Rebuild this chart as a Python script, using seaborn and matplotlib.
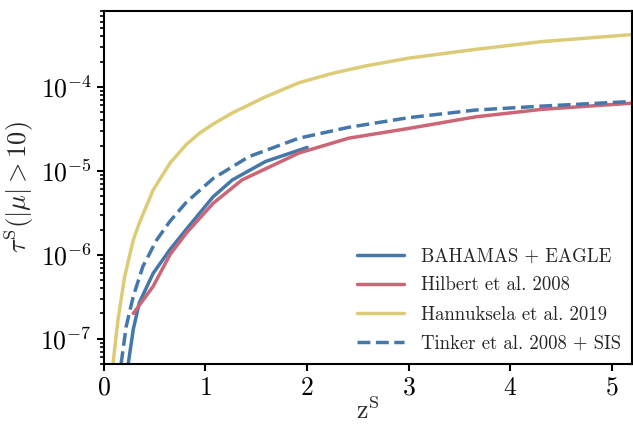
import matplotlib
matplotlib.use("Agg")
import matplotlib.pyplot as plt
import seaborn as sns

# -------------------------------
# DATA
# -------------------------------
z_bahamas = [0.24, 0.29, 0.35, 0.485, 0.65, 0.81, 1.075, 1.265, 1.59, 2.0]
tau_bahamas = [5e-8, 1.3e-7, 2.7e-7, 6.0e-7, 1.15e-6, 2.0e-6, 4.9e-6, 7.8e-6,
               1.29e-5, 1.9e-5]

z_hilbert = [0.29, 0.485, 0.65, 0.81, 1.075, 1.36, 1.92, 2.41, 3.0, 3.66, 4.31, 5.2]
tau_hilbert = [2.0e-7, 4.2e-7, 1.0e-6, 1.8e-6, 4.1e-6, 7.8e-6, 1.63e-5, 2.45e-5,
               3.2e-5, 4.4e-5, 5.4e-5, 6.4e-5]

z_hannuksela = [0.09, 0.14, 0.205, 0.29, 0.35, 0.485, 0.65, 0.81, 0.94, 1.075,
                1.265, 1.59, 1.92, 2.25, 2.58, 3.0, 3.66, 4.31, 5.2]
tau_hannuksela = [5e-8, 1.7e-7, 5.5e-7, 1.5e-6, 2.4e-6, 5.9e-6, 1.23e-5, 2.05e-5,
                  2.8e-5, 3.6e-5, 4.9e-5, 7.6e-5, 1.12e-4, 1.45e-4, 1.78e-4,
                  2.2e-4, 2.8e-4, 3.46e-4, 4.2e-4]

z_tinker = [0.17, 0.22, 0.29, 0.385, 0.52, 0.65, 0.81, 1.075, 1.43, 1.92, 2.41,
            3.0, 3.66, 4.31, 5.2]
tau_tinker = [5e-8, 1.4e-7, 3.2e-7, 7.3e-7, 1.5e-6, 2.5e-6, 4.2e-6, 8.1e-6,
              1.48e-5, 2.45e-5, 3.3e-5, 4.3e-5, 5.3e-5, 5.9e-5, 6.7e-5]

labels = ["BAHAMAS + EAGLE", "Hilbert et al. 2008", "Hannuksela et al. 2019",
          "Tinker et al. 2008 + SIS"]

# -------------------------------
# STYLE
# -------------------------------
sns.set_theme(style="ticks")
plt.rcParams.update({
    "font.family": "serif",
    "font.serif": ["cmr10"],
    "mathtext.fontset": "cm",
    "axes.formatter.use_mathtext": True,
    "axes.linewidth": 1.5,
    "xtick.major.width": 1.5,
    "ytick.major.width": 1.5,
    "ytick.minor.width": 1.2,
    "xtick.major.size": 5,
    "ytick.major.size": 5,
    "ytick.minor.size": 3,
    "xtick.color": "black",
    "ytick.color": "black",
    "axes.edgecolor": "black",
})

blue = "#4477AA"
red = "#CC6677"
yellow = "#DDCC77"

fig = plt.figure(figsize=(6.33, 4.25), dpi=100)
ax = fig.add_axes([0.164, 0.1435, 0.835, 0.8305])

sns.lineplot(x=z_bahamas, y=tau_bahamas, ax=ax, color=blue, lw=2.5, label=labels[0])
sns.lineplot(x=z_hilbert, y=tau_hilbert, ax=ax, color=red, lw=2.5, label=labels[1])
sns.lineplot(x=z_hannuksela, y=tau_hannuksela, ax=ax, color=yellow, lw=2.5,
             label=labels[2])
sns.lineplot(x=z_tinker, y=tau_tinker, ax=ax, color=blue, lw=2.5, linestyle="--",
             label=labels[3])

ax.set_yscale("log")
ax.set_xlim(0, 5.2)
ax.set_ylim(5e-8, 8e-4)
ax.set_xticks([0, 1, 2, 3, 4, 5])
ax.tick_params(axis="both", which="major", labelsize=18.5)

ax.set_xlabel(r"$\mathrm{z}^{\mathrm{S}}$", fontsize=18.5, labelpad=-2)
ax.set_ylabel(r"$\tau^{\mathrm{S}}(|\mu| > 10)$", fontsize=19, labelpad=3)

ax.legend(loc="lower right", frameon=False, fontsize=13.5, handlelength=2.5,
          labelspacing=0.6, borderaxespad=0.2, handletextpad=0.9)

fig.savefig("out.png", dpi=100)
